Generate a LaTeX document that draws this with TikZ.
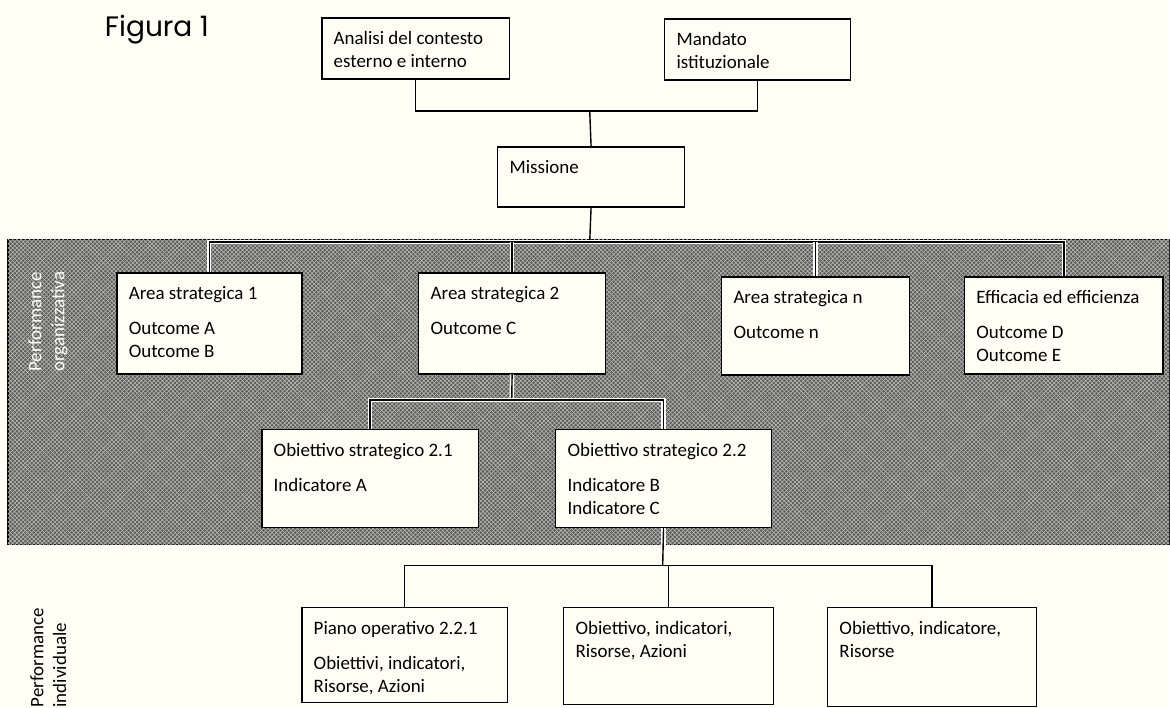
\documentclass[tikz,border=0pt]{standalone}
\usepackage{fontspec}
\setmainfont{Carlito}
\newfontfamily\figfont{Poppins}
\usetikzlibrary{patterns}
\definecolor{paper}{RGB}{255,255,246}
\definecolor{bandgray}{RGB}{92,92,88}
\newlength\pxu
\setlength\pxu{0.025cm}
\newcommand{\boxtxt}[3]{\parbox[c][\dimexpr#2\pxu-22\pxu\relax][t]{\dimexpr#1\pxu-24\pxu\relax}{\raggedright\strut #3}}

\begin{document}
\begin{tikzpicture}[x=0.025cm, y=-0.025cm,
    blk/.style={draw, fill=paper, line width=1.2pt, anchor=north west, inner xsep=0.3cm, inner ysep=0.275cm},
    txt/.style={font=\fontsize{13.5}{16.3}\selectfont},
    wire/.style={line width=1pt},
    halo/.style={wire, preaction={draw=white, line width=3.2pt}}]
    \fill[paper] (0,0) rectangle (1170,708);
    \filldraw[fill=bandgray, draw=black, line width=0.8pt] (8,240) rectangle (1170,545);
    \fill[pattern=crosshatch, pattern color=gray!55] (8,240) rectangle (1170,545);

    \node (fig) [font=\figfont\fontsize{20}{24}\selectfont, anchor=west] at (100,30) {Figura 1};
    \node (perforg) [txt, rotate=90, align=center, text=white] at (48,322) {Performance\\organizzativa};
    \node (perfind) [txt, rotate=90, align=left, anchor=north west, inner sep=0pt] at (30,708) {Performance\\individuale};

    \node (analisi) [blk, txt] at (321,17) {\boxtxt{188}{61}{Analisi del contesto\\esterno e interno}};
    \node (mandato) [blk, txt] at (664,18) {\boxtxt{186}{61}{Mandato\\istituzionale}};
    \node (missione) [blk, txt] at (497,146) {\boxtxt{187}{60}{Missione}};

    \node (area1) [blk, txt] at (116,272) {\boxtxt{185}{101}{Area strategica 1\\[8.5pt]Outcome A\\Outcome B}};
    \node (area2) [blk, txt] at (418,272) {\boxtxt{187}{101}{Area strategica 2\\[8.5pt]Outcome C}};
    \node (arean) [blk, txt] at (721,276) {\boxtxt{188}{98}{Area strategica n\\[8.5pt]Outcome n}};
    \node (effic) [blk, txt] at (964,276) {\boxtxt{199}{97}{Efficacia ed efficienza\\[8.5pt]Outcome D\\Outcome E}};

    \node (obj21) [blk, txt] at (261,429) {\boxtxt{217}{98}{Obiettivo strategico 2.1\\[8.5pt]Indicatore A}};
    \node (obj22) [blk, txt] at (555,429) {\boxtxt{216}{98}{Obiettivo strategico 2.2\\[8.5pt]Indicatore B\\Indicatore C}};

    \node (piano) [blk, txt] at (301,607) {\boxtxt{206}{95}{Piano operativo 2.2.1\\[8.5pt]Obiettivi, indicatori,\\Risorse, Azioni}};
    \node (ob2) [blk, txt] at (563,607) {\boxtxt{210}{97}{Obiettivo, indicatori,\\Risorse, Azioni}};
    \node (ob3) [blk, txt] at (827,607) {\boxtxt{209}{99}{Obiettivo, indicatore,\\Risorse}};

    \coordinate (topj) at (590,111);
    \coordinate (bandj) at (590,242);
    \coordinate (midj) at (512,400);
    \coordinate (lowj) at (663,566);

    \draw [wire] (analisi.south) |- (topj) -| (mandato.south);
    \draw [wire] (topj) -- (missione.north);
    \draw [wire] (missione.south) -- (bandj);
    \draw [halo] (area1.north) |- (bandj) -| (effic.north);
    \draw [halo] (area2.north) -- (area2.north |- bandj);
    \draw [halo] (arean.north) -- (arean.north |- bandj);
    \draw [halo] (area2.south) -- (midj);
    \draw [halo] (obj21.north) |- (midj) -| (obj22.north);
    \draw [halo] (obj22.south) -- (obj22.south |- 0,545);
    \draw [wire] (obj22.south) -- (lowj);
    \draw [wire] (piano.north) |- (lowj) -| (ob3.north);
    \draw [wire] (ob2.north) -- (ob2.north |- lowj);
\end{tikzpicture}
\end{document}
